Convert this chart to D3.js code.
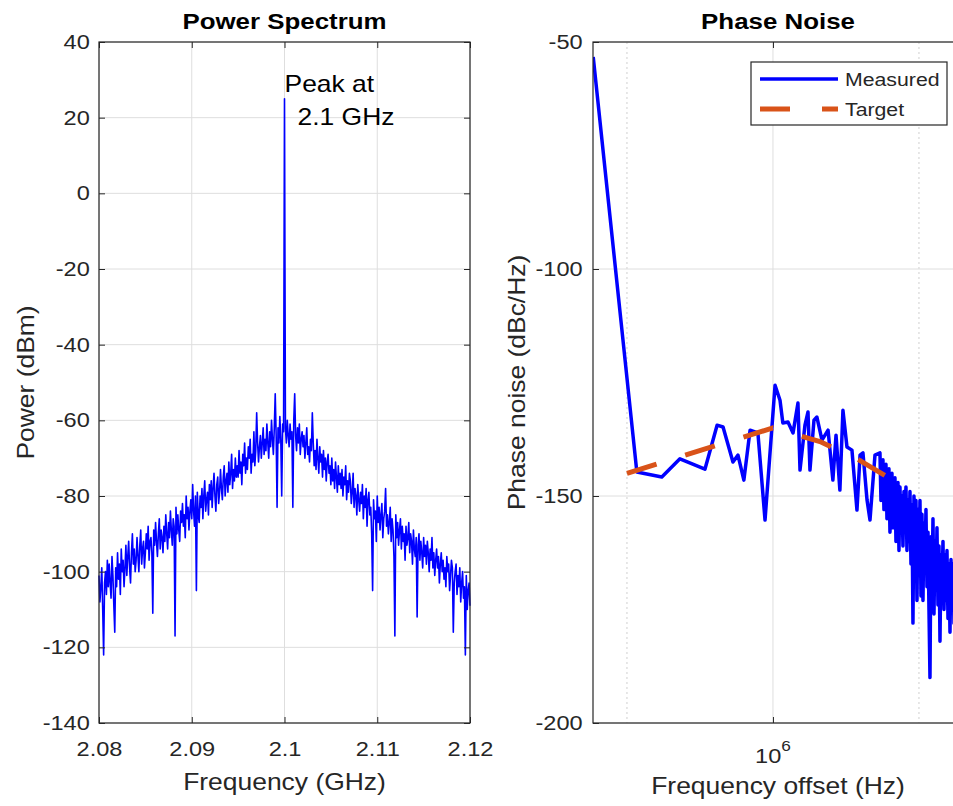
<!DOCTYPE html>
<html>
<head>
<meta charset="utf-8">
<script src="https://cdn.jsdelivr.net/npm/d3@7"></script>
<style>
  body { margin: 0; background: #fff; }
  text { font-family: "Liberation Sans", Arial, Helvetica, sans-serif; fill: #262626; }
</style>
</head>
<body>
<div id="chart"></div>
<script>
// ---- data ----
const specStartGHz = 2.08;
const specStepGHz = 0.0001;
const powerDbm = [
  -101,-108,-104,-99,-110,-122,-103,-100,-106,-97,
  -104,-98,-103,-107,-96,-101,-109,-116,-99,-104,
  -95,-102,-98,-106,-94,-100,-97,-104,-99,-93,
  -101,-96,-92,-99,-103,-95,-90,-98,-94,-100,
  -97,-91,-96,-100,-93,-89,-98,-94,-92,-99,
  -95,-90,-94,-88,-97,-92,-91,-95,-111,-89,
  -93,-87,-92,-96,-90,-86,-94,-89,-91,-95,
  -88,-92,-85,-90,-94,-87,-91,-84,-89,-93,
  -86,-88,-117,-83,-90,-85,-89,-92,-84,-87,
  -82,-88,-85,-91,-80,-86,-83,-89,-84,-81,
  -86,-77,-84,-88,-80,-105,-79,-85,-87,-80,
  -83,-78,-86,-80,-76,-84,-81,-79,-85,-77,
  -81,-76,-83,-78,-74,-80,-84,-77,-75,-82,
  -79,-73,-78,-81,-75,-72,-80,-76,-74,-79,
  -71,-77,-74,-69,-78,-73,-76,-70,-75,-72,
  -75,-68,-74,-71,-77,-69,-72,-66,-74,-70,
  -73,-67,-70,-65,-74,-69,-71,-63,-72,-68,
  -58,-66,-71,-67,-64,-70,-66,-62,-69,-65,
  -68,-61,-66,-70,-63,-67,-60,-65,-69,-62,
  -53,-64,-83,-62,-66,-59,-65,-80,-61,-63,
  25,
  -62,-66,-60,-64,-67,-61,-65,-63,-83,-60,
  -53,-64,-68,-62,-66,-61,-69,-65,-63,-67,
  -64,-70,-66,-62,-69,-67,-71,-65,-68,-58,
  -66,-72,-68,-73,-65,-70,-74,-67,-71,-69,
  -75,-68,-73,-70,-76,-71,-69,-74,-72,-77,
  -70,-76,-73,-78,-71,-75,-79,-72,-77,-74,
  -78,-73,-80,-75,-77,-72,-81,-76,-79,-74,
  -76,-82,-79,-74,-83,-78,-80,-85,-77,-81,
  -84,-79,-82,-77,-86,-80,-83,-78,-88,-81,
  -79,-85,-83,-90,-105,-81,-86,-84,-92,-80,
  -87,-83,-89,-85,-82,-91,-86,-84,-78,-88,
  -85,-90,-87,-83,-92,-86,-89,-96,-117,-85,
  -91,-87,-93,-89,-86,-94,-88,-92,-90,-97,
  -88,-93,-91,-87,-95,-90,-92,-98,-89,-94,
  -96,-91,-112,-93,-90,-97,-92,-95,-99,-91,
  -96,-93,-98,-92,-95,-100,-94,-97,-91,-99,
  -95,-101,-97,-94,-99,-96,-103,-98,-95,-100,
  -97,-102,-99,-104,-96,-100,-98,-105,-101,-97,
  -99,-116,-103,-100,-98,-106,-101,-104,-99,-108,
  -103,-100,-107,-104,-122,-101,-110,-105,-103,-109
];
const peakGHz = 2.1;
const specXTicks = [2.08, 2.09, 2.1, 2.11, 2.12];
const specYTicks = [-140, -120, -100, -80, -60, -40, -20, 0, 20, 40];

const measFreqHz = [
  4.26e5, 5.24e5, 5.90e5, 6.43e5, 7.24e5, 7.67e5, 7.89e5, 8.27e5, 8.47e5, 8.71e5,
  8.97e5, 9.31e5, 9.63e5, 1.010e6, 1.034e6, 1.048e6, 1.074e6, 1.100e6, 1.126e6, 1.137e6,
  1.164e6, 1.181e6, 1.192e6, 1.215e6, 1.232e6, 1.262e6, 1.299e6, 1.329e6, 1.349e6, 1.374e6,
  1.394e6, 1.421e6, 1.455e6, 1.490e6, 1.512e6, 1.533e6, 1.563e6, 1.585e6, 1.623e6,
  1.6619e6, 1.6698e6, 1.6777e6, 1.6857e6, 1.6937e6, 1.7018e6, 1.7099e6, 1.7180e6, 1.7262e6, 1.7344e6,
  1.7427e6, 1.7510e6, 1.7593e6, 1.7677e6, 1.7761e6, 1.7846e6, 1.7931e6, 1.8016e6, 1.8102e6, 1.8188e6,
  1.8275e6, 1.8362e6, 1.8449e6, 1.8537e6, 1.8625e6, 1.8714e6, 1.8803e6, 1.8892e6, 1.8982e6, 1.9073e6,
  1.9163e6, 1.9255e6, 1.9346e6, 1.9438e6, 1.9531e6, 1.9624e6, 1.9717e6, 1.9811e6, 1.9905e6, 2.0000e6,
  2.0095e6, 2.0191e6, 2.0287e6, 2.0384e6, 2.0481e6, 2.0578e6, 2.0676e6, 2.0775e6, 2.0874e6, 2.0973e6,
  2.1073e6, 2.1173e6, 2.1274e6, 2.1375e6, 2.1477e6, 2.1579e6, 2.1682e6, 2.1785e6, 2.1889e6, 2.1993e6,
  2.2098e6, 2.2203e6, 2.2309e6, 2.2415e6, 2.2522e6, 2.2629e6, 2.2737e6, 2.2845e6, 2.2954e6, 2.3063e6,
  2.3173e6, 2.3283e6, 2.3394e6, 2.3505e6, 2.3617e6, 2.3730e6, 2.3843e6, 2.3956e6, 2.4070e6, 2.4185e6,
  2.4300e6, 2.4416e6, 2.4532e6, 2.4649e6
];
const measDbc = [
  -53.3, -144.7, -145.8, -141.8, -144.1, -134.4, -134.8, -142.5, -141.0, -146.5,
  -135.5, -136.1, -155.3, -125.6, -128.9, -133.9, -133.7, -136.1, -129.5, -144.3,
  -134.4, -131.5, -144.3, -133.3, -132.6, -137.7, -135.5, -146.5, -136.6, -148.7,
  -131.1, -139.2, -139.9, -153.1, -141.0, -140.5, -150.9, -155.3, -141.0,
  -140.5, -151, -146, -142, -153, -148, -143, -155, -147, -144,
  -158, -150, -145, -157, -149, -146, -160, -152, -147, -162,
  -148, -158, -150, -161, -149, -156, -148, -162, -151, -160,
  -149, -165, -152, -178, -150, -168, -151, -173, -153, -166,
  -151, -172, -154, -173, -156, -165, -153, -170, -158, -175,
  -190, -159, -172, -155, -176, -160, -170, -157, -174, -161,
  -182, -163, -171, -160, -175, -163, -173, -162, -177, -165,
  -180, -164, -172, -165, -178, -166, -175, -165, -179, -167,
  -174, -166, -176, -170
];
const targetFreqHz = [5e5, 1e6, 1.25e6, 1.5e6, 1.8e6];
const targetDbc = [-145, -135, -138, -142, -147];
const pnYTicks = [-200, -150, -100, -50];
const pnMajorX = [1e6];
const pnMinorX = [5e5, 2e6];

// ---- layout ----
const width = 953, height = 806;
const SX = 1.15;           // the reference text is a little wide, stretch it
const gridColor = "#dedede";
const axisColor = "#262626";
const plain = d => String(d);   // hyphen minus like the original, not U+2212

const svg = d3.select("#chart").append("svg")
  .attr("width", width)
  .attr("height", height);

function stretchText(g, x, y, str, size, anchor, extra) {
  return g.append("text")
    .attr("transform", "translate(" + x + "," + y + ")" + (extra || "") + " scale(" + SX + ",1)")
    .attr("text-anchor", anchor || "middle")
    .style("font-size", size + "px")
    .text(str);
}

function styleAxis(g, fontSize) {
  g.select(".domain").remove();
  g.selectAll(".tick line").attr("stroke", axisColor);
  g.selectAll(".tick text")
    .style("font-size", fontSize + "px")
    .attr("fill", axisColor);
}

// ================= left: power spectrum =================
const L = { x0: 99, x1: 470, y0: 42, y1: 723 };
const xs = d3.scaleLinear().domain([2.08, 2.12]).range([L.x0, L.x1]);
const ys = d3.scaleLinear().domain([-140, 40]).range([L.y1, L.y0]);

const gl = svg.append("g");

gl.append("g").selectAll("line").data(specXTicks).join("line")
  .attr("x1", d => xs(d)).attr("x2", d => xs(d))
  .attr("y1", L.y0).attr("y2", L.y1)
  .attr("stroke", gridColor);
gl.append("g").selectAll("line").data(specYTicks).join("line")
  .attr("x1", L.x0).attr("x2", L.x1)
  .attr("y1", d => ys(d)).attr("y2", d => ys(d))
  .attr("stroke", gridColor);

const specPts = powerDbm.map((p, i) => [specStartGHz + i * specStepGHz, p]);
gl.append("path")
  .datum(specPts)
  .attr("fill", "none")
  .attr("stroke", "#0000ff")
  .attr("stroke-width", 1.6)
  .attr("stroke-linejoin", "round")
  .attr("d", d3.line().x(d => xs(d[0])).y(d => ys(d[1])));

// axes (ticks point inward, box all round)
const gxb = gl.append("g").attr("transform", "translate(0," + L.y1 + ")")
  .call(d3.axisBottom(xs).tickValues(specXTicks).tickFormat(plain).tickSizeInner(-6).tickPadding(18));
styleAxis(gxb, 20.5);
gxb.selectAll(".tick text").attr("dy", "0.71em").attr("transform", "scale(" + SX + ",1)");
const gyl = gl.append("g").attr("transform", "translate(" + L.x0 + ",0)")
  .call(d3.axisLeft(ys).tickValues(specYTicks).tickFormat(plain).tickSizeInner(-6).tickPadding(8));
styleAxis(gyl, 20.5);
gyl.selectAll(".tick text").attr("transform", "scale(" + SX + ",1)");
const gxt = gl.append("g").attr("transform", "translate(0," + L.y0 + ")")
  .call(d3.axisTop(xs).tickValues(specXTicks).tickSizeInner(-6).tickFormat(""));
styleAxis(gxt, 1);
const gyr = gl.append("g").attr("transform", "translate(" + L.x1 + ",0)")
  .call(d3.axisRight(ys).tickValues(specYTicks).tickSizeInner(-6).tickFormat(""));
styleAxis(gyr, 1);
gl.append("rect")
  .attr("x", L.x0).attr("y", L.y0)
  .attr("width", L.x1 - L.x0).attr("height", L.y1 - L.y0)
  .attr("fill", "none").attr("stroke", axisColor).attr("stroke-width", 1.2);

stretchText(gl, (L.x0 + L.x1) / 2, 29, "Power Spectrum", 22.5).style("font-weight", "bold").style("fill", "#000");
stretchText(gl, (L.x0 + L.x1) / 2, 790, "Frequency (GHz)", 23);
stretchText(gl, 34, (L.y0 + L.y1) / 2, "Power (dBm)", 23, "middle", " rotate(-90)");

// peak annotation
stretchText(gl, xs(peakGHz), 92, "Peak at", 23, "start").style("fill", "#000");
stretchText(gl, xs(peakGHz) + 13, 125, peakGHz.toFixed(1) + " GHz", 23, "start").style("fill", "#000");

// ================= right: phase noise =================
const R = { x0: 593, x1: 963, y0: 42, y1: 723 };
const xp = d3.scaleLog().domain([425550, 2465000]).range([R.x0, R.x1]);
const yp = d3.scaleLinear().domain([-200, -50]).range([R.y1, R.y0]);

const gr = svg.append("g");
svg.append("clipPath").attr("id", "pnclip").append("rect")
  .attr("x", R.x0).attr("y", R.y0).attr("width", R.x1 - R.x0).attr("height", R.y1 - R.y0);

gr.append("g").selectAll("line").data(pnMinorX).join("line")
  .attr("x1", d => xp(d)).attr("x2", d => xp(d))
  .attr("y1", R.y0).attr("y2", R.y1)
  .attr("stroke", "#cfcfcf").attr("stroke-dasharray", "2,3");
gr.append("g").selectAll("line").data(pnMajorX).join("line")
  .attr("x1", d => xp(d)).attr("x2", d => xp(d))
  .attr("y1", R.y0).attr("y2", R.y1)
  .attr("stroke", gridColor);
gr.append("g").selectAll("line").data(pnYTicks).join("line")
  .attr("x1", R.x0).attr("x2", R.x1)
  .attr("y1", d => yp(d)).attr("y2", d => yp(d))
  .attr("stroke", gridColor);

const plot = gr.append("g").attr("clip-path", "url(#pnclip)");
const pnLine = d3.line().x(d => xp(d[0])).y(d => yp(d[1]));
plot.append("path")
  .datum(measFreqHz.map((f, i) => [f, measDbc[i]]))
  .attr("fill", "none")
  .attr("stroke", "#0000ff")
  .attr("stroke-width", 3.5)
  .attr("stroke-linejoin", "round")
  .attr("d", pnLine);
plot.append("path")
  .datum(targetFreqHz.map((f, i) => [f, targetDbc[i]]))
  .attr("fill", "none")
  .attr("stroke", "#D95319")
  .attr("stroke-width", 5)
  .attr("stroke-dasharray", "31,30")
  .attr("d", pnLine);

const pxb = gr.append("g").attr("transform", "translate(0," + R.y1 + ")")
  .call(d3.axisBottom(xp).tickValues(pnMajorX).tickSizeInner(-6).tickFormat(""));
styleAxis(pxb, 1);
const pxt = gr.append("g").attr("transform", "translate(0," + R.y0 + ")")
  .call(d3.axisTop(xp).tickValues(pnMajorX).tickSizeInner(-6).tickFormat(""));
styleAxis(pxt, 1);
const pyl = gr.append("g").attr("transform", "translate(" + R.x0 + ",0)")
  .call(d3.axisLeft(yp).tickValues(pnYTicks).tickFormat(plain).tickSizeInner(-6).tickPadding(9));
styleAxis(pyl, 20.5);
pyl.selectAll(".tick text").attr("transform", "scale(" + SX + ",1)");
gr.append("rect")
  .attr("x", R.x0).attr("y", R.y0)
  .attr("width", R.x1 - R.x0).attr("height", R.y1 - R.y0)
  .attr("fill", "none").attr("stroke", axisColor).attr("stroke-width", 1.2);

// 10^6 label
const ex = gr.append("text")
  .attr("transform", "translate(" + xp(1e6) + ",763) scale(" + SX + ",1)")
  .attr("text-anchor", "middle")
  .style("font-size", "20.5px");
ex.append("tspan").text("10");
ex.append("tspan").attr("dy", -12).style("font-size", "15px").text("6");

stretchText(gr, (R.x0 + R.x1) / 2, 29, "Phase Noise", 22.5).style("font-weight", "bold").style("fill", "#000");
stretchText(gr, 778, 794, "Frequency offset (Hz)", 23);
stretchText(gr, 525, (R.y0 + R.y1) / 2, "Phase noise (dBc/Hz)", 23, "middle", " rotate(-90)");

// legend
const lg = gr.append("g");
lg.append("rect")
  .attr("x", 751).attr("y", 62).attr("width", 196).attr("height", 63)
  .attr("fill", "#fff").attr("stroke", axisColor).attr("stroke-width", 1.2);
lg.append("line").attr("x1", 760).attr("x2", 838).attr("y1", 79).attr("y2", 79)
  .attr("stroke", "#0000ff").attr("stroke-width", 3.5);
lg.append("line").attr("x1", 760).attr("x2", 838).attr("y1", 109).attr("y2", 109)
  .attr("stroke", "#D95319").attr("stroke-width", 5).attr("stroke-dasharray", "30,32");
stretchText(lg, 845, 86, "Measured", 18.5, "start");
stretchText(lg, 845, 116, "Target", 18.5, "start");
</script>
</body>
</html>
